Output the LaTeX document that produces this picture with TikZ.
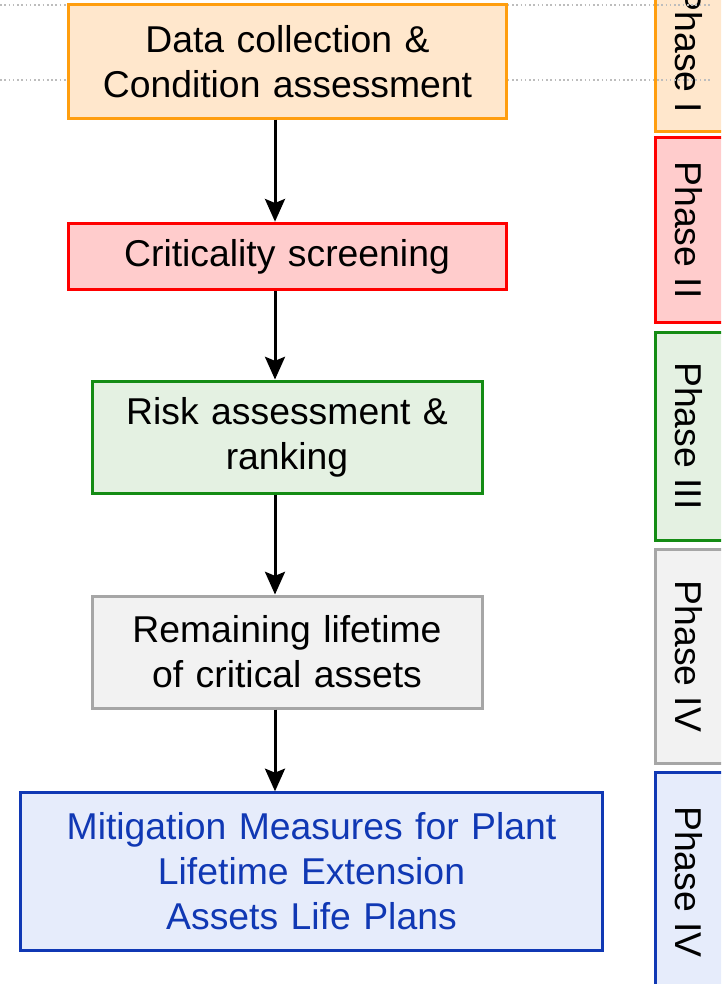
\documentclass[tikz,border=0pt]{standalone}
\usepackage{fontspec}
\setmainfont{Liberation Sans}
\usepackage{tikz}
\usetikzlibrary{arrows.meta,positioning}
\definecolor{orangeline}{HTML}{FF9E0F}
\definecolor{orangefill}{HTML}{FFE7CC}
\definecolor{redline}{HTML}{FF0000}
\definecolor{redfill}{HTML}{FFCCCC}
\definecolor{greenline}{HTML}{148C14}
\definecolor{greenfill}{HTML}{E4F1E2}
\definecolor{grayline}{HTML}{A6A6A6}
\definecolor{grayfill}{HTML}{F2F2F2}
\definecolor{blueline}{HTML}{1038B4}
\definecolor{bluefill}{HTML}{E6ECFB}
\definecolor{gridline}{HTML}{BDBDBD}
\tikzstyle{stage}=[draw,line width=2.25pt,inner sep=0pt,align=center,font=\fontsize{28}{33.75}\selectfont]
\tikzstyle{phase}=[draw,line width=2.25pt,inner sep=0pt,rotate=-90,minimum height=51pt,font=\fontsize{28}{33.75}\selectfont]
\tikzstyle{flow}=[line width=2.25pt,-{Stealth[length=17pt,width=15pt,inset=3pt]}]

\begin{document}
\begin{tikzpicture}[x=0.75pt,y=-0.75pt]
		\useasboundingbox (0,0) rectangle (721,984);
		\clip (0,0) rectangle (721,984);
		\node[phase,draw=orangeline,fill=orangefill,minimum width=123pt] (p1) at (689,50) {Phase I};
		\node[phase,draw=redline,fill=redfill,minimum width=138pt] (p2) at (689,230) {Phase II};
		\node[phase,draw=greenline,fill=greenfill,minimum width=156pt] (p3) at (689,436) {Phase III};
		\node[phase,draw=grayline,fill=grayfill,minimum width=160pt] (p4) at (689,656.5) {Phase IV};
		\node[phase,draw=blueline,fill=bluefill,minimum width=165pt] (p5) at (689,882) {Phase IV};
		
		\draw[gridline,dotted,line width=1.2pt] (0,5) -- (710,5);
		\draw[gridline,dotted,line width=1.2pt] (0,80) -- (710,80);
		
		\node[stage,draw=orangeline,fill=orangefill,minimum width=329pt,minimum height=85pt,text width=325pt] (collect) at (287.5,61.5) {Data collection \&\\Condition assessment};
		\node[stage,draw=redline,fill=redfill,minimum width=328.5pt,minimum height=50pt,text width=325pt] (screen) at (287,256.5) {Criticality screening};
		\node[stage,draw=greenline,fill=greenfill,minimum width=292.5pt,minimum height=84pt,text width=288pt] (risk) at (287,437) {Risk assessment \&\\ranking};
		\node[stage,draw=grayline,fill=grayfill,minimum width=292.5pt,minimum height=84pt,text width=288pt] (life) at (287,652) {Remaining lifetime\\of critical assets};
		\node[stage,draw=blueline,fill=bluefill,text=blueline,minimum width=437pt,minimum height=118pt,text width=433pt] (mitig) at (311.5,871.5) {Mitigation Measures for Plant\\Lifetime Extension\\Assets Life Plans};
		
		\coordinate (axis) at (275,0);
		\draw[flow] (collect.south -| axis) -- (screen.north -| axis);
		\draw[flow] (screen.south -| axis) -- (risk.north -| axis);
		\draw[flow] (risk.south -| axis) -- (life.north -| axis);
		\draw[flow] (life.south -| axis) -- (mitig.north -| axis);
\end{tikzpicture}
\end{document}
